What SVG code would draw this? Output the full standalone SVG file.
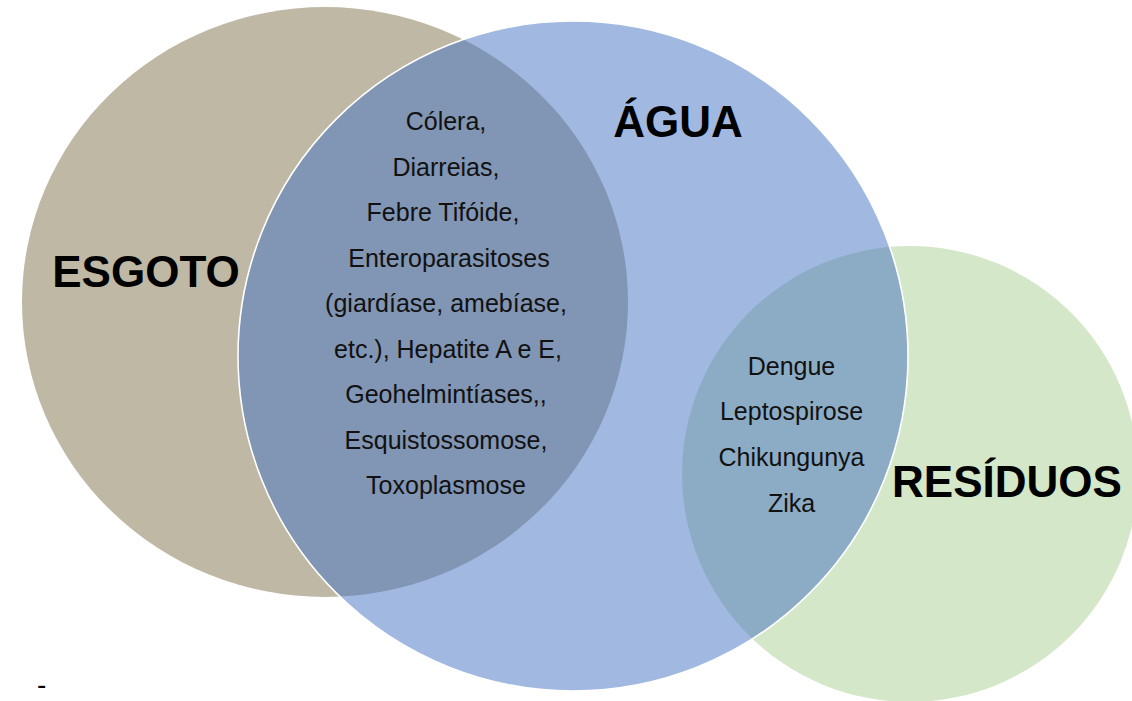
<svg xmlns="http://www.w3.org/2000/svg" width="1132" height="701" viewBox="0 0 1132 701">
  <style>
    .big { font-family: "Liberation Sans", Arial, sans-serif; font-weight: bold; font-size: 44px; fill: #000; text-anchor: middle; }
    .small { font-family: "Liberation Sans", Arial, sans-serif; font-size: 25px; fill: #111; text-anchor: middle; }
  </style>
  <rect x="0" y="0" width="1132" height="701" fill="#ffffff"/>
  <g id="esgoto">
    <ellipse cx="325" cy="302" rx="303" ry="295" fill="#BFB8A5"/>
  </g>
  <g id="residuos">
    <circle cx="910" cy="474" r="228" fill="#D5E7C9"/>
  </g>
  <g id="agua">
    <circle cx="573" cy="356" r="335" fill="#4472C4" fill-opacity="0.5" stroke="#ffffff" stroke-width="1.6"/>
  </g>
  <g id="connectors"/>
  <g id="labels">
    <text class="big" x="146" y="287">ESGOTO</text>
    <text class="big" x="678" y="137">ÁGUA</text>
    <text class="big" x="1007" y="497">RESÍDUOS</text>
  </g>
  <g id="esgoto-agua">
    <text class="small" x="446" y="130">Cólera,</text>
    <text class="small" x="446" y="175.5">Diarreias,</text>
    <text class="small" x="443" y="221">Febre Tifóide,</text>
    <text class="small" x="449" y="266.5">Enteroparasitoses</text>
    <text class="small" x="446" y="312">(giardíase, amebíase,</text>
    <text class="small" x="448" y="357.5">etc.), Hepatite A e E,</text>
    <text class="small" x="446" y="403">Geohelmintíases,,</text>
    <text class="small" x="446" y="448.5">Esquistossomose,</text>
    <text class="small" x="446" y="494">Toxoplasmose</text>
  </g>
  <g id="agua-residuos">
    <text class="small" x="791.5" y="375">Dengue</text>
    <text class="small" x="791.5" y="420">Leptospirose</text>
    <text class="small" x="791.5" y="466">Chikungunya</text>
    <text class="small" x="791.5" y="512">Zika</text>
  </g>
  <text x="37" y="694" style="font-family: 'Liberation Sans', Arial, sans-serif; font-size: 28px; fill: #000;">-</text>
</svg>
